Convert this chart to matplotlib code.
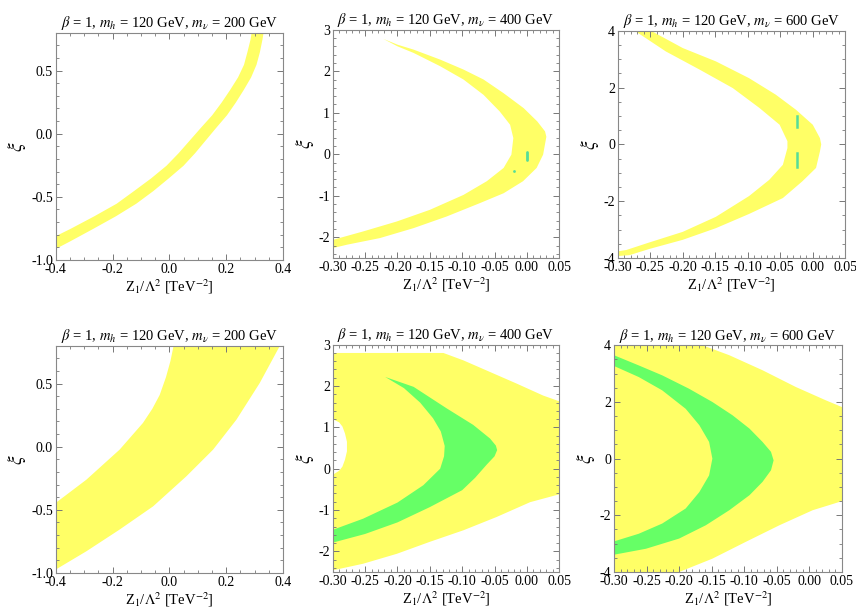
import matplotlib
matplotlib.use("Agg")
import matplotlib.pyplot as plt
from matplotlib.ticker import MultipleLocator, FormatStrFormatter

plt.rcParams['font.family'] = ['Liberation Serif', 'DejaVu Serif']
plt.rcParams['mathtext.fontset'] = 'stix'

YELLOW = '#ffff66'
GREEN = '#66ff66'
SPOT = '#55dd99'

titles = [r"$\beta$ = 1, $m_h$ = 120 GeV, $m_\nu$ = 200 GeV",
          r"$\beta$ = 1, $m_h$ = 120 GeV, $m_\nu$ = 400 GeV",
          r"$\beta$ = 1, $m_h$ = 120 GeV, $m_\nu$ = 600 GeV"]

# ---- panel 1 (top left): thin band, x as function of y
p1_y = [-0.95, -0.85, -0.75, -0.65, -0.55, -0.45, -0.35, -0.25, -0.15, -0.05,
        0.05, 0.15, 0.25, 0.35, 0.45, 0.55, 0.65, 0.75, 0.82]
p1_left = [-0.525, -0.44, -0.35, -0.266, -0.187, -0.126, -0.066, -0.012, 0.031, 0.07,
           0.109, 0.149, 0.182, 0.212, 0.24, 0.261, 0.273, 0.284, 0.289]
p1_right = [-0.437, -0.352, -0.27, -0.19, -0.118, -0.058, -0.004, 0.048, 0.089, 0.126,
            0.163, 0.201, 0.232, 0.26, 0.286, 0.305, 0.317, 0.326, 0.331]

# ---- panel 2 (top middle): crescent, outer edge then inner edge (both top to bottom)
p2_out_x = [-0.222, -0.2, -0.175, -0.134, -0.098, -0.067, -0.036, -0.005, 0.016, 0.028,
            0.03, 0.025, 0.015, -0.006, -0.036, -0.073, -0.124, -0.175, -0.227, -0.278, -0.31]
p2_out_y = [2.78, 2.64, 2.52, 2.28, 2.04, 1.8, 1.47, 1.11, 0.79, 0.55,
            0.42, -0.01, -0.33, -0.65, -0.94, -1.18, -1.5, -1.78, -2.02, -2.18, -2.3]
p2_in_x = [-0.222, -0.2, -0.175, -0.134, -0.098, -0.067, -0.042, -0.026, -0.021, -0.024,
           -0.036, -0.062, -0.098, -0.15, -0.201, -0.253, -0.299, -0.31]
p2_in_y = [2.78, 2.6, 2.44, 2.12, 1.8, 1.43, 1.03, 0.71, 0.39, -0.01,
           -0.33, -0.65, -0.98, -1.34, -1.62, -1.86, -2.06, -2.1]
p2_spot_x = [-0.0, 0.0, -0.02]
p2_spot_y = [-0.15, 0.05, -0.4]

# ---- panel 3 (top right)
p3_out_x = [-0.252, -0.249, -0.2, -0.149, -0.098, -0.057, -0.026, 0.0, 0.011, 0.013,
            0.011, 0.005, -0.016, -0.046, -0.098, -0.149, -0.2, -0.251, -0.282, -0.31]
p3_out_y = [4.1, 4.0, 3.39, 2.92, 2.33, 1.75, 1.22, 0.69, 0.22, 0.0,
            -0.25, -0.83, -1.3, -1.89, -2.45, -2.95, -3.36, -3.68, -3.9, -3.95]
p3_in_x = [-0.28, -0.274, -0.226, -0.174, -0.123, -0.082, -0.051, -0.039, -0.039, -0.046,
           -0.067, -0.098, -0.149, -0.2, -0.251, -0.287, -0.31]
p3_in_y = [4.1, 4.0, 3.27, 2.63, 1.98, 1.28, 0.69, 0.11, -0.13, -0.72,
           -1.25, -1.82, -2.55, -3.08, -3.45, -3.72, -3.8]
p3_spot_x = [-0.025, -0.025, -0.025, -0.025]
p3_spot_y = [0.6, 1.0, -0.3, -0.8]

# ---- panel 4 (bottom left): wide band
p4_up_x = [-0.42, -0.4, -0.292, -0.175, -0.093, -0.06, -0.034, -0.012, 0.004, 0.015, 0.017]
p4_up_y = [-0.47, -0.445, -0.261, -0.023, 0.188, 0.3, 0.41, 0.55, 0.68, 0.8, 0.82]
p4_lo_x = [-0.42, -0.4, -0.292, -0.175, -0.057, 0.06, 0.154, 0.236, 0.318, 0.388, 0.392]
p4_lo_y = [-1.0, -0.973, -0.828, -0.656, -0.472, -0.234, -0.023, 0.214, 0.504, 0.795, 0.82]

# ---- panel 5 (bottom middle)
p5_yel_x = [-0.31, -0.129, -0.098, -0.057, -0.016, 0.025, 0.05, 0.07, 0.07, 0.05,
            0.005, -0.047, -0.098, -0.15, -0.201, -0.253, -0.3, -0.31]
p5_yel_y = [2.8, 2.8, 2.62, 2.34, 2.06, 1.77, 1.63, 1.5, -0.45, -0.62,
            -0.81, -1.17, -1.49, -1.77, -2.06, -2.3, -2.46, -2.5]
p5_hole_x = [-0.31, -0.3, -0.29, -0.285, -0.281, -0.278, -0.278, -0.281, -0.285, -0.29, -0.3, -0.31]
p5_hole_y = [1.2, 1.2, 1.12, 1.02, 0.85, 0.65, 0.42, 0.22, 0.05, -0.05, -0.15, -0.15]
p5_out_x = [-0.219, -0.175, -0.124, -0.083, -0.057, -0.048, -0.046, -0.05, -0.062, -0.08,
            -0.1, -0.15, -0.2, -0.25, -0.3, -0.31]
p5_out_y = [2.22, 1.98, 1.46, 1.06, 0.73, 0.56, 0.45, 0.3, 0.1, -0.22,
            -0.52, -0.93, -1.3, -1.58, -1.79, -1.8]
p5_in_x = [-0.219, -0.19, -0.165, -0.145, -0.133, -0.127, -0.128, -0.134, -0.147, -0.16,
           -0.2, -0.253, -0.3, -0.31]
p5_in_y = [2.22, 1.95, 1.6, 1.22, 0.9, 0.55, 0.3, 0.0, -0.2, -0.4,
           -0.82, -1.21, -1.48, -1.5]

# ---- panel 6 (bottom right)
p6_yel_x = [-0.31, -0.164, -0.123, -0.072, -0.021, 0.025, 0.05, 0.07, 0.07, 0.05,
            0.005, -0.046, -0.098, -0.149, -0.2, -0.21, -0.31]
p6_yel_y = [4.1, 4.0, 3.65, 3.12, 2.53, 2.06, 1.82, 1.6, -1.3, -1.5,
            -1.82, -2.35, -2.94, -3.53, -4.0, -4.1, -4.1]
p6_out_x = [-0.31, -0.3, -0.262, -0.226, -0.185, -0.149, -0.118, -0.092, -0.072, -0.059,
            -0.055, -0.059, -0.072, -0.092, -0.123, -0.159, -0.2, -0.251, -0.3, -0.31]
p6_out_y = [3.7, 3.65, 3.29, 2.94, 2.47, 2.0, 1.53, 1.06, 0.59, 0.24,
            -0.06, -0.41, -0.82, -1.29, -1.82, -2.35, -2.82, -3.18, -3.39, -3.42]
p6_in_x = [-0.31, -0.3, -0.262, -0.226, -0.19, -0.169, -0.154, -0.149, -0.154, -0.169,
           -0.19, -0.226, -0.262, -0.3, -0.31]
p6_in_y = [3.3, 3.27, 2.88, 2.41, 1.76, 1.18, 0.59, 0.0, -0.59, -1.18,
           -1.76, -2.29, -2.65, -2.92, -2.95]


def crescent(ax, ox, oy, ix, iy, color):
    xs = list(ox) + list(ix[::-1])
    ys = list(oy) + list(iy[::-1])
    ax.fill(xs, ys, color=color, lw=0, zorder=1)


def style(ax, title, xlim, ylim, xmaj, xmin, ymaj, ymin, xfmt, yfmt):
    ax.set_xlim(*xlim)
    ax.set_ylim(*ylim)
    ax.xaxis.set_major_locator(MultipleLocator(xmaj))
    ax.xaxis.set_minor_locator(MultipleLocator(xmin))
    ax.yaxis.set_major_locator(MultipleLocator(ymaj))
    ax.yaxis.set_minor_locator(MultipleLocator(ymin))
    ax.xaxis.set_major_formatter(FormatStrFormatter(xfmt))
    ax.yaxis.set_major_formatter(FormatStrFormatter(yfmt))
    ax.tick_params(which='both', direction='in', top=True, right=True,
                   color='#777777', labelsize=10, pad=2)
    ax.tick_params(which='major', length=4, width=0.7)
    ax.tick_params(which='minor', length=2, width=0.6)
    for s in ax.spines.values():
        s.set_color('#888888')
        s.set_linewidth(0.8)
    ax.set_title(title, fontsize=10.5, pad=4)
    ax.set_xlabel(r"Z$_1$/$\Lambda^2$ [TeV$^{-2}$]", fontsize=10.5, labelpad=1)
    ax.set_ylabel(r"$\xi$", fontsize=14, labelpad=2)


fig = plt.figure(figsize=(8.56, 6.10), dpi=100)
W, H = 856.0, 610.0
boxes = [(55.7, 32.7, 283, 260), (332.7, 29.7, 559.3, 258), (617.7, 30.7, 845.3, 258),
         (55.7, 345.7, 283, 573), (332.7, 344.7, 559.3, 572), (614, 345.3, 842, 572)]
axs = [fig.add_axes([l / W, (H - b) / H, (r - l) / W, (b - t) / H]) for l, t, r, b in boxes]

# top row
ax = axs[0]
ax.fill_betweenx(p1_y, p1_left, p1_right, color=YELLOW, lw=0)
style(ax, titles[0], (-0.4, 0.4), (-1.0, 0.8), 0.2, 0.05, 0.5, 0.1, '%.1f', '%.1f')

ax = axs[1]
crescent(ax, p2_out_x, p2_out_y, p2_in_x, p2_in_y, YELLOW)
ax.plot(p2_spot_x[:2], p2_spot_y[:2], color=SPOT, lw=2, solid_capstyle='round')
ax.plot(p2_spot_x[2:], p2_spot_y[2:], 'o', color=SPOT, ms=2, mew=0)
style(ax, titles[1], (-0.30, 0.05), (-2.5, 3.0), 0.05, 0.01, 1, 0.2, '%.2f', '%d')

ax = axs[2]
crescent(ax, p3_out_x, p3_out_y, p3_in_x, p3_in_y, YELLOW)
ax.plot(p3_spot_x[:2], p3_spot_y[:2], color=SPOT, lw=1.8)
ax.plot(p3_spot_x[2:], p3_spot_y[2:], color=SPOT, lw=1.8)
style(ax, titles[2], (-0.30, 0.05), (-4, 4), 0.05, 0.01, 2, 0.5, '%.2f', '%d')

# bottom row
ax = axs[3]
ax.fill(p4_up_x + p4_lo_x[::-1], p4_up_y + p4_lo_y[::-1], color=YELLOW, lw=0)
style(ax, titles[0], (-0.4, 0.4), (-1.0, 0.8), 0.2, 0.05, 0.5, 0.1, '%.1f', '%.1f')

ax = axs[4]
ax.fill(p5_yel_x, p5_yel_y, color=YELLOW, lw=0, zorder=1)
ax.fill(p5_hole_x, p5_hole_y, color='white', lw=0, zorder=1.5)
crescent(ax, p5_out_x, p5_out_y, p5_in_x, p5_in_y, GREEN)
style(ax, titles[1], (-0.30, 0.05), (-2.5, 3.0), 0.05, 0.01, 1, 0.2, '%.2f', '%d')

ax = axs[5]
ax.fill(p6_yel_x, p6_yel_y, color=YELLOW, lw=0, zorder=1)
crescent(ax, p6_out_x, p6_out_y, p6_in_x, p6_in_y, GREEN)
style(ax, titles[2], (-0.30, 0.05), (-4, 4), 0.05, 0.01, 2, 0.5, '%.2f', '%d')

fig.savefig("out.png", dpi=100)
